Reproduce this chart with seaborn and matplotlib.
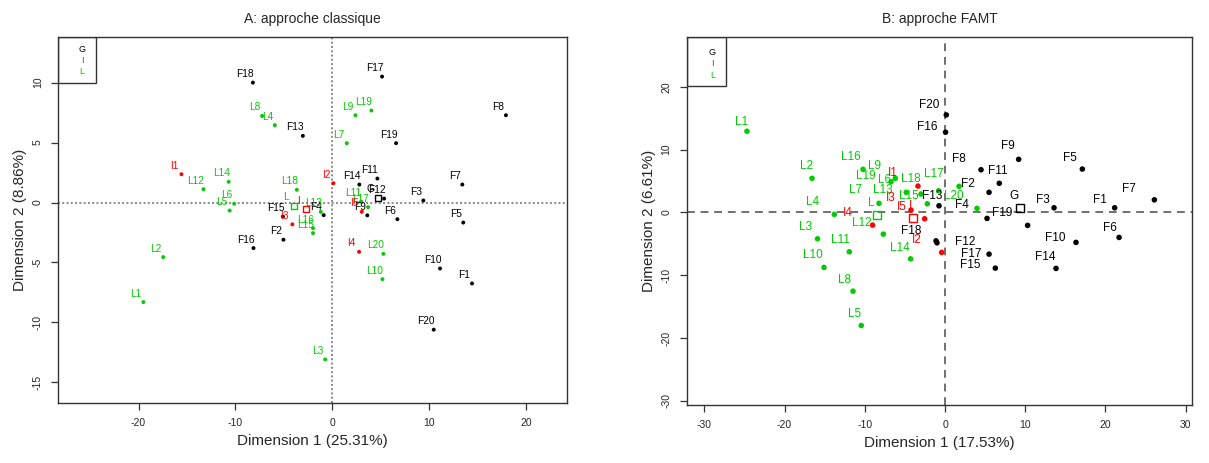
import numpy as np
import pandas as pd
import matplotlib.pyplot as plt
import seaborn as sns
from matplotlib.patches import Rectangle

# ---- panel A : approche classique ----
A_F_x = [14.4, -5.05, 9.38, -0.9, 13.5, 6.7, 13.4, 17.9, 3.6, 11.1,
         4.64, 5.33, -3.05, 2.78, -5.1, -8.14, 5.12, -8.2, 6.57, 10.45]
A_F_y = [-6.75, -3.1, 0.17, -1.05, -1.67, -1.39, 1.5, 7.28, -1.07, -5.5,
         2.0, 0.33, 5.56, 1.5, -1.17, -3.8, 10.5, 10.0, 4.95, -10.6]
A_L_x = [-19.5, -17.45, -0.75, -5.94, -10.6, -10.13, 1.48, -7.25, 2.37, 5.16,
         2.96, -13.3, -1.2, -10.7, -2.0, -2.0, 3.68, -3.67, 4.02, 5.26]
A_L_y = [-8.3, -4.55, -13.08, 6.45, -0.67, -0.1, 4.95, 7.22, 7.28, -6.39,
         0.08, 1.11, -0.78, 1.73, -2.55, -2.14, -0.39, 1.06, 7.67, -4.28]
A_I_x = [-15.57, 0.1, -4.13, 2.75, 3.03]
A_I_y = [2.36, 1.61, -1.82, -4.11, -0.77]
A_cent_x = [4.7, -2.75, -4.0]
A_cent_y = [0.39, -0.55, -0.27]

# ---- panel B : approche FAMT ----
B_F_x = [21.15, 5.49, 13.59, 10.3, 17.12, 21.7, 26.1, 4.49, 9.18, 16.33,
         6.77, -1.0, -0.75, 13.84, 6.27, 0.07, 5.49, -1.12, 5.24, 0.16]
B_F_y = [0.73, 3.19, 0.73, -2.07, 6.9, -3.99, 2.0, 6.79, 8.45, -4.78,
         4.63, -4.85, 1.05, -8.93, -8.88, 12.76, -6.65, -4.53, -0.96, 15.52]
B_L_x = [-24.69, -16.58, -15.89, -13.8, -10.44, -6.2, -8.23, -11.47, -6.73, -15.09,
         -11.93, -7.69, -4.83, -4.29, -2.21, -10.22, -0.8, -2.99, 1.75, 3.99]
B_L_y = [12.92, 5.42, -4.21, -0.32, -18.02, 5.42, 1.44, -12.55, 4.88, -8.77,
         -6.28, -3.46, 3.19, -7.4, 1.37, 6.86, 3.44, 2.92, 4.15, 0.64]
B_I_x = [-3.37, -0.42, -4.24, -9.03, -2.54]
B_I_y = [4.19, -6.38, 0.37, -2.03, -1.02]
B_cent_x = [9.3, -3.99, -8.48]
B_cent_y = [0.73, -0.96, -0.38]

F_names = [f"F{i}" for i in range(1, 21)]
L_names = [f"L{i}" for i in range(1, 21)]
I_names = [f"I{i}" for i in range(1, 6)]
groups = ["G", "I", "L"]
colors = {"G": "black", "F": "black", "I": "#ff0000", "L": "#00cc00"}

# label offsets (pixels) for panel B, labels were moved by autoLab
B_nudge = {
    "F1": (-15, 8), "F2": (-21, 8), "F3": (-11, 8), "F4": (-66, 20), "F5": (-12, 11),
    "F6": (-9, 9), "F7": (-25, 11), "F8": (-22, 11), "F9": (-11, 13), "F10": (-21, 4),
    "F11": (-2, 12), "F12": (28, 1), "F13": (-7, 10), "F14": (-11, 11), "F15": (-25, 3),
    "F16": (-18, 5), "F17": (-18, 0), "F18": (-25, 10), "F19": (15, 5), "F20": (-17, 10),
    "L1": (-5, 9), "L2": (-6, 12), "L3": (-12, 12), "L4": (-22, 12), "L5": (-7, 12),
    "L6": (-11, -2), "L7": (-23, 13), "L8": (-9, 11), "L9": (-17, 16), "L10": (-11, 12),
    "L11": (-9, 12), "L12": (-22, 11), "L13": (-23, 2), "L14": (-11, 11), "L15": (-18, 8),
    "L16": (-12, 12), "L17": (-5, 17), "L18": (-10, 15), "L19": (-93, 10), "L20": (-23, 12),
    "I1": (-25, 13), "I2": (-25, 12), "I3": (-20, 12), "I4": (-25, 12), "I5": (-23, 12),
    "G": (-6, 12), "I": (-3, 12), "L": (-6, 12),
}


def make_df(fx, fy, lx, ly, ix, iy):
    return pd.concat([
        pd.DataFrame({"x": fx, "y": fy, "name": F_names, "grp": "F"}),
        pd.DataFrame({"x": lx, "y": ly, "name": L_names, "grp": "L"}),
        pd.DataFrame({"x": ix, "y": iy, "name": I_names, "grp": "I"}),
    ], ignore_index=True)


dfA = make_df(A_F_x, A_F_y, A_L_x, A_L_y, A_I_x, A_I_y)
dfB = make_df(B_F_x, B_F_y, B_L_x, B_L_y, B_I_x, B_I_y)
centA = pd.DataFrame({"x": A_cent_x, "y": A_cent_y, "name": groups, "grp": ["F", "I", "L"]})
centB = pd.DataFrame({"x": B_cent_x, "y": B_cent_y, "name": groups, "grp": ["F", "I", "L"]})

sns.set_theme(style="ticks")
plt.rcParams["font.family"] = ["Liberation Sans", "DejaVu Sans"]
plt.rcParams["axes.unicode_minus"] = False

fig = plt.figure(figsize=(12.09, 4.63), dpi=100)
axA = fig.add_axes([0.048, 0.130, 0.421, 0.790])
axB = fig.add_axes([0.568, 0.125, 0.418, 0.796])


def draw(ax, df, cent, dot_s, sq_s, fs, nudge, lstyle, lcol):
    ax.axhline(0, color=lcol, lw=1.4, ls=lstyle, zorder=1)
    ax.axvline(0, color=lcol, lw=1.4, ls=lstyle, zorder=1)
    sns.scatterplot(data=df, x="x", y="y", hue="grp", palette=colors, s=dot_s,
                    edgecolor="none", legend=False, ax=ax, zorder=3)
    sns.scatterplot(data=cent, x="x", y="y", hue="grp", palette=colors, s=sq_s,
                    marker="s", legend=False, ax=ax, zorder=3)
    for frame in (df, cent):
        for _, r in frame.iterrows():
            off = nudge.get(r["name"], (-7.5, 8.5)) if nudge else (-7.5, 8.5)
            ax.annotate(r["name"], (r["x"], r["y"]), xytext=off, textcoords="offset pixels",
                        ha="center", va="center", fontsize=fs, color=colors[r["grp"]], zorder=4)


draw(axA, dfA, centA, 8, 18, 7.3, None, (0, (1, 1.2)), "#8a8a8a")
draw(axB, dfB, centB, 16, 34, 8.5, B_nudge, (0, (4, 3)), "#707070")

# squares drawn as outline only
for ax, cent in ((axA, centA), (axB, centB)):
    coll = ax.collections[-1]
    coll.set_facecolor("none")
    coll.set_edgecolor([colors[g] for g in cent["grp"]])
    coll.set_linewidth(1.0)

axA.set_xlim(-28.3, 24.2)
axA.set_ylim(-16.7, 13.8)
axA.set_xticks([-20, -10, 0, 10, 20])
axA.set_yticks([-15, -10, -5, 0, 5, 10])
axA.set_title("A: approche classique", fontsize=10, pad=10)
axA.set_xlabel("Dimension 1 (25.31%)", fontsize=11)
axA.set_ylabel("Dimension 2 (8.86%)", fontsize=11)

axB.set_xlim(-32.2, 30.8)
axB.set_ylim(-30.7, 28.0)
axB.set_xticks([-30, -20, -10, 0, 10, 20, 30])
axB.set_yticks([-30, -20, -10, 0, 10, 20])
axB.set_title("B: approche FAMT", fontsize=10, pad=10)
axB.set_xlabel("Dimension 1 (17.53%)", fontsize=11)
axB.set_ylabel("Dimension 2 (6.61%)", fontsize=11)

legend_pos = {axA: (0.074, 0.875, 0.047, [0.966, 0.935, 0.905]),
              axB: (0.078, 0.867, 0.051, [0.958, 0.928, 0.894])}
for ax in (axA, axB):
    for sp in ax.spines.values():
        sp.set_visible(True)
        sp.set_color("#333333")
        sp.set_linewidth(1.0)
    ax.tick_params(axis="both", labelsize=7.5, length=5, width=0.9, color="#333333", pad=6)
    for t in ax.get_yticklabels():
        t.set_rotation(90)
        t.set_va("center")
    w, y0, tx, tys = legend_pos[ax]
    ax.add_patch(Rectangle((0, y0), w, 1 - y0, transform=ax.transAxes, fill=False,
                           ec="#333333", lw=1.0, zorder=5))
    for g, ty in zip(groups, tys):
        ax.text(tx, ty, g, transform=ax.transAxes, ha="center", va="center",
                fontsize=6.5, color=colors["F" if g == "G" else g], zorder=5)

fig.savefig("out.png", dpi=100)
